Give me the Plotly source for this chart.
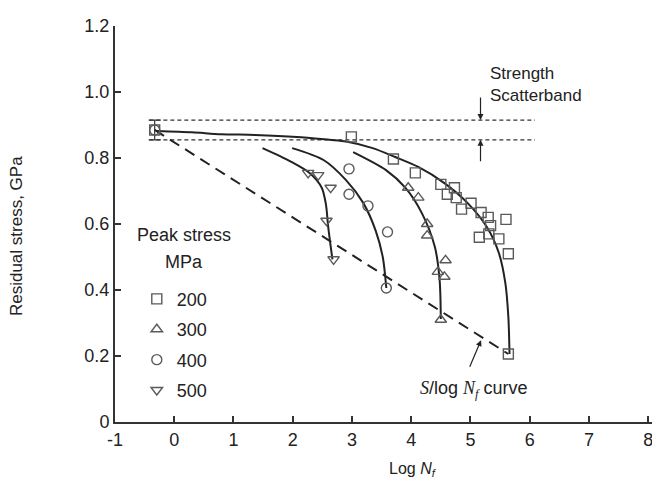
import plotly.graph_objects as go

FONT = "Liberation Sans, Arial, sans-serif"

# ---- data -----------------------------------------------------------
# measured points (Log Nf, residual stress GPa)
sq_x = [-0.33, 2.99, 3.70, 4.07, 4.50, 4.73, 4.61, 4.76, 4.85, 5.01, 5.18, 5.30, 5.34, 5.60, 5.15, 5.31, 5.48, 5.64, 5.64]
sq_y = [0.885, 0.864, 0.797, 0.755, 0.720, 0.710, 0.690, 0.680, 0.645, 0.663, 0.635, 0.620, 0.595, 0.614, 0.560, 0.570, 0.555, 0.510, 0.206]
tri_x = [3.95, 4.12, 4.27, 4.27, 4.58, 4.45, 4.56, 4.50]
tri_y = [0.710, 0.680, 0.600, 0.565, 0.490, 0.455, 0.440, 0.310]
cir_x = [-0.33, 2.95, 2.95, 3.27, 3.60, 3.58]
cir_y = [0.885, 0.767, 0.690, 0.655, 0.576, 0.406]
tdn_x = [2.26, 2.43, 2.64, 2.57, 2.69]
tdn_y = [0.755, 0.748, 0.710, 0.610, 0.493]

# fitted curves
c200_x = [-0.30, 0.30, 0.79, 1.36, 2.07, 2.62, 2.90, 3.35, 3.73, 4.12, 4.56, 4.95, 5.28, 5.48, 5.59, 5.64, 5.66]
c200_y = [0.882, 0.878, 0.872, 0.870, 0.864, 0.855, 0.850, 0.830, 0.803, 0.773, 0.724, 0.664, 0.590, 0.512, 0.420, 0.318, 0.206]
c300_x = [3.02, 3.57, 3.90, 4.18, 4.40, 4.48, 4.50]
c300_y = [0.818, 0.764, 0.710, 0.633, 0.530, 0.430, 0.312]
c400_x = [1.99, 2.52, 2.90, 3.19, 3.40, 3.52, 3.58]
c400_y = [0.830, 0.794, 0.733, 0.664, 0.580, 0.500, 0.406]
c500_x = [1.49, 1.96, 2.29, 2.49, 2.56, 2.60, 2.67]
c500_y = [0.830, 0.790, 0.754, 0.710, 0.660, 0.590, 0.493]

# S / log Nf line and strength scatterband
slog_x = [-0.33, 5.64]
slog_y = [0.885, 0.206]
band_x = [-0.42, 6.09]
band_hi = [0.915, 0.915]
band_lo = [0.855, 0.855]
start_x = [-0.33]
start_y = [0.885]
start_err = [0.03]

legend_names = ["200", "300", "400", "500"]
x_ticks = [-1, 0, 1, 2, 3, 4, 5, 6, 7, 8]
x_tick_text = ["-1", "0", "1", "2", "3", "4", "5", "6", "7", "8"]
y_ticks = [0, 0.2, 0.4, 0.6, 0.8, 1.0, 1.2]
y_tick_text = ["0", "0.2", "0.4", "0.6", "0.8", "1.0", "1.2"]

# ---- figure ---------------------------------------------------------
LINE = "#222222"
MARK = "#5a5a5a"

fig = go.Figure()

for bx, by in [(band_x, band_hi), (band_x, band_lo)]:
    fig.add_trace(go.Scatter(x=bx, y=by, mode="lines", showlegend=False, hoverinfo="skip",
                             line=dict(color="#333333", width=1.3, dash="4px,3px")))

fig.add_trace(go.Scatter(x=start_x, y=start_y, mode="markers", showlegend=False,
                         marker=dict(size=1, color="rgba(0,0,0,0)"),
                         error_y=dict(type="data", array=start_err, color="#333333", thickness=1.2, width=6)))

fig.add_trace(go.Scatter(x=slog_x, y=slog_y, mode="lines", showlegend=False,
                         line=dict(color=LINE, width=2, dash="11px,7px")))

for cx, cy in [(c200_x, c200_y), (c300_x, c300_y), (c400_x, c400_y), (c500_x, c500_y)]:
    fig.add_trace(go.Scatter(x=cx, y=cy, mode="lines", showlegend=False,
                             line=dict(color=LINE, width=2, shape="spline", smoothing=0.8)))

symbols = ["square-open", "triangle-up-open", "circle-open", "triangle-down-open"]
pts = [(sq_x, sq_y), (tri_x, tri_y), (cir_x, cir_y), (tdn_x, tdn_y)]
for (px, py), sym, name in zip(pts, symbols, legend_names):
    fig.add_trace(go.Scatter(x=px, y=py, mode="markers", name=name, legendgroup=name,
                             marker=dict(symbol=sym, size=10, color=MARK, line=dict(color=MARK, width=1.4))))

# page body has an 8px margin, so the figure is sized to fit the window
fig.update_layout(
    width=652, height=473,
    margin=dict(l=107, r=0, t=18, b=59, autoexpand=False),
    paper_bgcolor="white", plot_bgcolor="white",
    font=dict(family=FONT, size=17, color="#222222"),
    showlegend=True,
    legend=dict(x=0.040, y=0.357, xanchor="left", yanchor="top", bgcolor="rgba(0,0,0,0)",
                font=dict(size=18, family=FONT, color="#222222"), tracegroupgap=4,
                itemwidth=30),
    xaxis=dict(range=[-1, 8.2], tickvals=x_ticks, ticktext=x_tick_text, showgrid=False, zeroline=False,
               showline=True, linecolor="#333333", linewidth=2, automargin=False,
               ticklabeloverflow="allow",
               ticks="inside", ticklen=6, tickwidth=2, tickcolor="#333333",
               tickfont=dict(size=18)),
    yaxis=dict(range=[0, 1.2], tickvals=y_ticks, ticktext=y_tick_text, showgrid=False, zeroline=False,
               showline=True, linecolor="#333333", linewidth=2, automargin=False,
               ticklabeloverflow="allow",
               ticks="inside", ticklen=6, tickwidth=2, tickcolor="#333333",
               tickfont=dict(size=18)),
)

anns = [
    # axis titles
    dict(x=4.03, y=-0.121, xref="x", yref="paper", text="Log <i>N<sub>f</sub></i>", showarrow=False,
         xanchor="center", yanchor="middle", font=dict(size=16)),
    dict(x=-0.1795, y=0.47, xref="paper", yref="paper", text="Residual stress, GPa", showarrow=False,
         xanchor="center", yanchor="middle", textangle=-90, font=dict(size=17)),
    # legend title
    dict(x=0.163, y=0.567, xref="x", yref="y", text="Peak stress", showarrow=False, font=dict(size=18)),
    dict(x=0.163, y=0.485, xref="x", yref="y", text="MPa", showarrow=False, font=dict(size=18)),
    # scatterband label and arrows
    dict(x=5.3, y=1.022, xref="x", yref="y", text="Strength<br>Scatterband", showarrow=False,
         xanchor="left", align="left", font=dict(size=17)),
    dict(x=5.17, y=0.915, xref="x", yref="y", ax=0, ay=-24, text="", showarrow=True,
         arrowhead=2, arrowsize=1, arrowwidth=1.2, arrowcolor="#222222"),
    dict(x=5.17, y=0.855, xref="x", yref="y", ax=0, ay=23, text="", showarrow=True,
         arrowhead=2, arrowsize=1, arrowwidth=1.2, arrowcolor="#222222"),
    # S/log Nf curve label and arrow
    dict(x=5.18, y=0.248, xref="x", yref="y", ax=-12, ay=28, text="", showarrow=True,
         arrowhead=2, arrowsize=1, arrowwidth=1.2, arrowcolor="#222222"),
    dict(x=5.06, y=0.10, xref="x", yref="y",
         text="<i><span style='font-family:Liberation Serif'>S</span></i>/log <i><span style='font-family:Liberation Serif'>N<sub>f</sub></span></i> curve",
         showarrow=False, font=dict(size=18)),
]
fig.update_layout(annotations=anns)

fig.write_html("out.html")
